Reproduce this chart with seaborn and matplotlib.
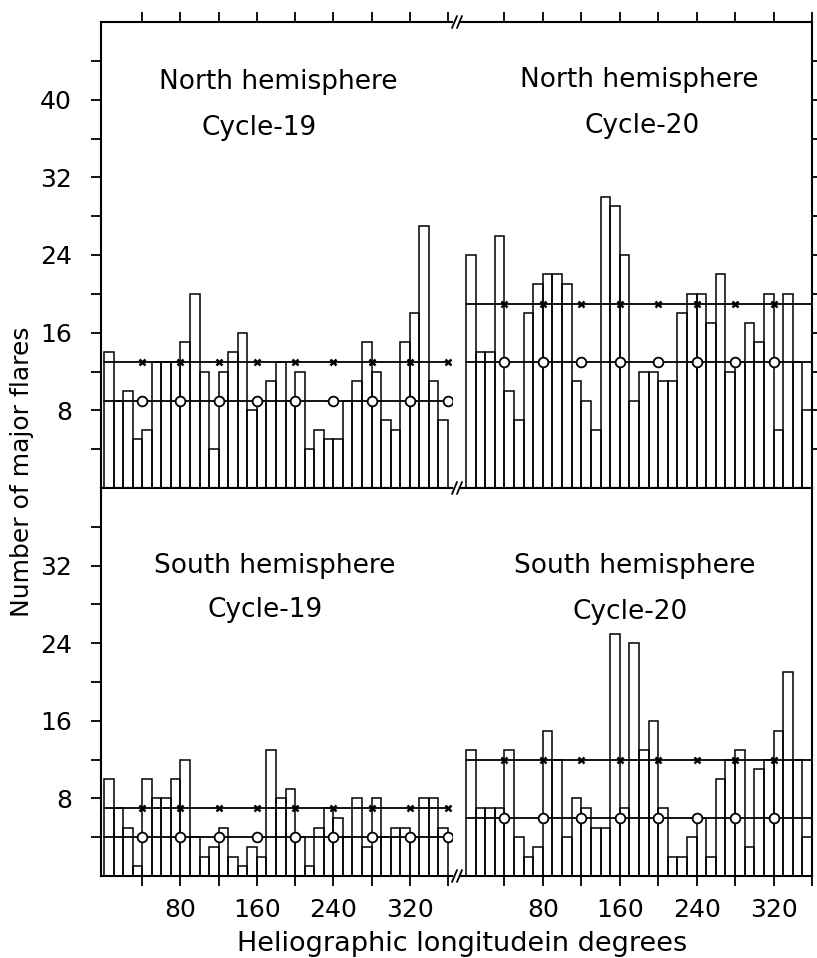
import numpy as np
import pandas as pd
import matplotlib
matplotlib.use("Agg")
import matplotlib.pyplot as plt
from matplotlib.lines import Line2D
import seaborn as sns

# major flares per 10 deg longitude bin (0-360)
north_19 = [14, 9, 10, 5, 6, 13, 13, 13, 15, 20, 12, 4, 12, 14, 16, 8, 9, 11,
            13, 9, 12, 4, 6, 5, 5, 9, 11, 15, 12, 7, 6, 15, 18, 27, 11, 7]
north_20 = [24, 14, 14, 26, 10, 7, 18, 21, 22, 22, 21, 11, 9, 6, 30, 29, 24, 9,
            12, 12, 11, 11, 18, 20, 20, 17, 22, 12, 13, 17, 15, 20, 6, 20, 13, 8]
south_19 = [10, 7, 5, 1, 10, 8, 8, 10, 12, 4, 2, 3, 5, 2, 1, 3, 2, 13,
            8, 9, 4, 1, 5, 7, 6, 4, 8, 3, 8, 4, 5, 5, 4, 8, 8, 5]
south_20 = [13, 7, 7, 7, 13, 4, 2, 3, 15, 12, 4, 8, 7, 5, 5, 25, 7, 24,
            13, 16, 7, 2, 2, 4, 6, 2, 10, 12, 13, 3, 11, 12, 15, 21, 12, 4]

# levels of the two reference lines (crosses / circles)
cross_levels = [13, 19, 7, 12]
circle_levels = [9, 13, 4, 6]

hemispheres = ["North hemisphere", "North hemisphere", "South hemisphere", "South hemisphere"]
cycles = ["Cycle-19", "Cycle-20", "Cycle-19", "Cycle-20"]

bin_edges = list(range(0, 361, 10))
marker_lon_left = list(range(40, 361, 40))
marker_lon_right = list(range(40, 321, 40))
xtick_lon = list(range(40, 361, 40))
xtick_labels = [str(v) if v % 80 == 0 and v < 360 else "" for v in xtick_lon]

sns.set_style("ticks")
plt.rcParams["font.family"] = ["DejaVu Sans"]
plt.rcParams["text.color"] = "black"
plt.rcParams["xtick.color"] = "black"
plt.rcParams["ytick.color"] = "black"

W, H = 817, 958
fig = plt.figure(figsize=(W / 100, H / 100), dpi=100)


def px_axes(x0, y0, x1, y1):
    return fig.add_axes([x0 / W, 1 - y1 / H, (x1 - x0) / W, (y1 - y0) / H])


boxes = [(101, 22, 452, 488), (460, 22, 812, 488),
         (101, 488, 452, 876), (460, 488, 812, 876)]
xlims = [(-3.1, 364.2), (-6.2, 360), (-3.1, 364.2), (-6.2, 360)]
counts_all = [north_19, north_20, south_19, south_20]
text_pos = [((278, 82), (259, 128)), ((639, 80), (642, 126)),
            ((275, 566), (265, 610)), ((635, 566), (630, 612))]

for i, ax in enumerate([px_axes(*b) for b in boxes]):
    df = pd.DataFrame({"lon": np.array(bin_edges[:-1]) + 5, "count": counts_all[i]})
    sns.histplot(data=df, x="lon", weights="count", bins=bin_edges,
                 element="bars", fill=False, color="black", linewidth=1.1, ax=ax)

    left = i % 2 == 0
    top = i < 2
    mlon = marker_lon_left if left else marker_lon_right

    for level, mk in [(cross_levels[i], "x"), (circle_levels[i], "o")]:
        ax.plot([bin_edges[0], bin_edges[-1]], [level, level],
                color="black", linewidth=1.3, zorder=3)
        if mk == "x":
            ax.plot(mlon, [level] * len(mlon), "x", color="black", ms=5, mew=1.8, zorder=4)
        else:
            ax.plot(mlon, [level] * len(mlon), "o", mfc="white", mec="black",
                    ms=7, mew=1.3, zorder=4)

    ax.set_xlim(*xlims[i])
    ax.set_ylim(0, 48 if top else 40)
    ax.set_xlabel("")
    ax.set_ylabel("")

    for side in ["left", "right", "top", "bottom"]:
        ax.spines[side].set_linewidth(1.5)
        ax.spines[side].set_color("black")
    ax.spines["right"].set_visible(not left)
    ax.spines["left"].set_visible(left)

    ax.set_xticks(xtick_lon)
    if top:
        ax.set_xticklabels([])
        ax.tick_params(axis="x", top=True, bottom=True, direction="out",
                       length=7, width=1.3)
    else:
        ax.set_xticklabels(xtick_labels)
        ax.tick_params(axis="x", top=False, bottom=True, direction="out",
                       length=7, width=1.3, labelsize=18, pad=9)

    ymax = 48 if top else 40
    yt = list(range(4, ymax, 4))
    ax.set_yticks(yt)
    if left:
        ax.set_yticklabels([str(v) if v % 8 == 0 and v <= 40 else "" for v in yt])
        ax.tick_params(axis="y", left=True, right=False, direction="out",
                       length=7, width=1.3, labelsize=18, pad=14)
    else:
        ax.set_yticklabels([])
        ax.tick_params(axis="y", left=False, right=top, direction="out",
                       length=7, width=1.3)

    (hx, hy), (cx, cy) = text_pos[i]
    fig.text(hx / W, 1 - hy / H, hemispheres[i], ha="center", va="center", fontsize=19)
    fig.text(cx / W, 1 - cy / H, cycles[i], ha="center", va="center", fontsize=19)

# break marks between the two cycles
for yb in [22, 488, 876]:
    for dx in [0, 5]:
        x0 = 452 + dx
        fig.add_artist(Line2D([x0 / W, (x0 + 5) / W], [1 - (yb + 6) / H, 1 - (yb - 6) / H],
                              color="black", lw=1.3))

fig.text(22 / W, 1 - 472 / H, "Number of major flares", rotation=90,
         ha="center", va="center", fontsize=18)
fig.text(462 / W, 1 - 944 / H, "Heliographic longitudein degrees",
         ha="center", va="center", fontsize=19.5)

fig.savefig("out.png", dpi=100)
